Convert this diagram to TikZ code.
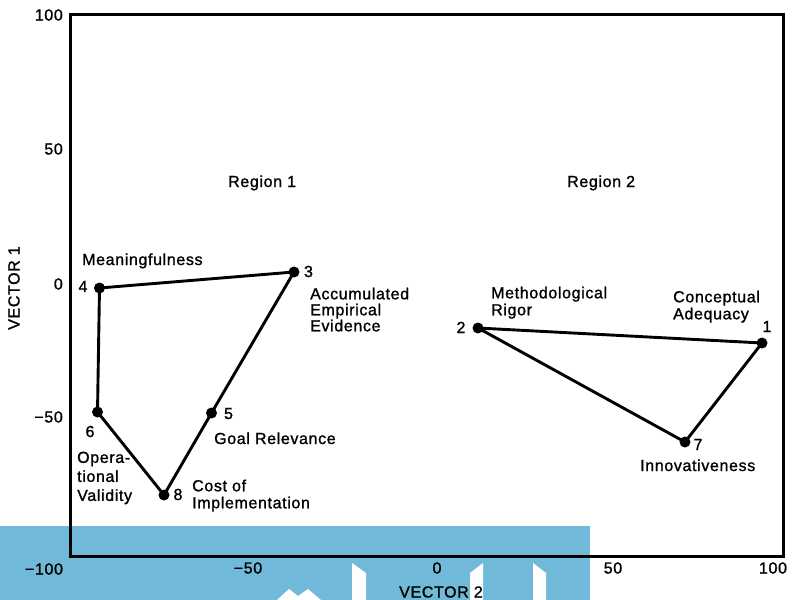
\documentclass[tikz,border=0pt]{standalone}
\usepackage{fontspec}
\setmainfont[LetterSpace=4,FakeBold=1.2]{Liberation Sans}
\definecolor{bandblue}{RGB}{113,185,216}
\begin{document}
\begin{tikzpicture}[x=1pt,y=-1pt,
  lab/.style={inner sep=0pt,font=\fontsize{16}{17}\selectfont},
  dot/.style={circle,fill=black,inner sep=0pt,minimum size=11pt},
  edge/.style={line width=2.9pt,line cap=round,line join=round},
  frame/.style={line width=3pt,line join=miter}]
\useasboundingbox (0,0) rectangle (793,600);
% blue band with white marks
\fill[bandblue] (0,526) rectangle (590,600);
\fill[white] (277,600) -- (289,589) -- (298,596) -- (308,589) -- (321,600) -- cycle;
\fill[white] (352,600) -- (352,563) -- (366,573) -- (366,600) -- cycle;
\fill[white] (470,600) -- (470,573) -- (483,563) -- (483,600) -- cycle;
\fill[white] (533,600) -- (533,563) -- (546,573) -- (546,600) -- cycle;
% frame
\draw[frame] (70,14) rectangle (783,556);
% axis labels
\node[lab,anchor=east] (y100) at (63,15) {100};
\node[lab,anchor=east] (y50) at (63,149) {50};
\node[lab,anchor=east] (y0) at (63,284) {0};
\node[lab,anchor=east] (ym50) at (63,417) {−50};
\node[lab] (xm100) at (44,569) {−100};
\node[lab] (xm50) at (248,568) {−50};
\node[lab] (x0) at (437,568) {0};
\node[lab] (x50) at (613,568) {50};
\node[lab] (x100) at (773,568) {100};
\node[lab,rotate=90] (v1) at (14,288) {VECTOR 1};
\node[lab] (v2) at (441,592) {VECTOR 2};
\node[lab,anchor=base west] (r1) at (228,187) {Region 1};
\node[lab,anchor=base west] (r2) at (567,187) {Region 2};
% points
\node[dot] (p1) at (762,343) {};
\node[dot] (p2) at (478,328) {};
\node[dot] (p3) at (294,272) {};
\node[dot] (p4) at (99.5,288) {};
\node[dot] (p5) at (211.5,413) {};
\node[dot] (p6) at (97.5,412) {};
\node[dot] (p7) at (685,442) {};
\node[dot] (p8) at (164,495) {};
% edges
\draw[edge] (p4.center) -- (p3.center) -- (p5.center) -- (p8.center) -- (p6.center) -- (p4.center);
\draw[edge] (p2.center) -- (p1.center) -- (p7.center) -- (p2.center);
% numbers
\node[lab,anchor=base] (n1) at (767,332) {1};
\node[lab,anchor=base] (n2) at (461,333) {2};
\node[lab,anchor=base] (n3) at (308.5,277) {3};
\node[lab,anchor=base] (n4) at (83,292) {4};
\node[lab,anchor=base] (n5) at (228.5,419) {5};
\node[lab,anchor=base] (n6) at (90,437) {6};
\node[lab,anchor=base] (n7) at (698,450) {7};
\node[lab,anchor=base] (n8) at (178,500) {8};
% names
\node[lab,anchor=base west] (t4) at (82,265) {Meaningfulness};
\node[lab,anchor=north west,align=left,font=\fontsize{16}{16}\selectfont] (t3) at (310,287.5) {Accumulated\\Empirical\\Evidence};
\node[lab,anchor=base west] (t5) at (214,444) {Goal Relevance};
\node[lab,anchor=north west,align=left,font=\fontsize{16}{19}\selectfont] (t6) at (77,451.5) {Opera-\\tional\\Validity};
\node[lab,anchor=north west,align=left] (t8) at (192,479.5) {Cost of\\Implementation};
\node[lab,anchor=north west,align=left] (t2) at (491,286.5) {Methodological\\Rigor};
\node[lab,anchor=north west,align=left] (t1) at (673,290.5) {Conceptual\\Adequacy};
\node[lab,anchor=base west] (t7) at (640,471) {Innovativeness};
\end{tikzpicture}
\end{document}
